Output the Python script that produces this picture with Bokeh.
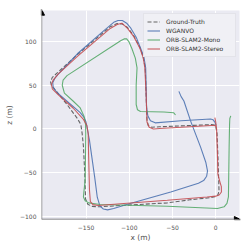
from bokeh.plotting import figure
from bokeh.models import Range1d, FixedTicker, Legend, LegendItem, Arrow, NormalHead
from bokeh.embed import file_html
from bokeh.resources import INLINE

# ---------------- data ----------------
gt_x = [0, 1.5, 2.5, 3.5, 3.8, 2.5, -1, -6, -30, -56, -110, -134, -143, -148, -150.5,
        -151.5, -153, -154.5, -156, -160, -172, -185, -190, -191, -189, -184, -160,
        -122, -114, -108, -102, -95, -88, -84, -81.5, -80.5, -79.5, -78, -74, -65, -30,
        -5, -1, 0]
gt_z = [3, -5, -30, -60, -71, -75.5, -77.5, -78.5, -81, -84.5, -87.5, -89, -88.5, -86, -80,
        -50, -20, -5, 5, 12, 28, 44, 49.5, 54, 59, 63.5, 85,
        117, 120.5, 120, 116, 107, 94, 83, 70, 40, 10, 4, 2, 2.5, 4,
        5, 4.5, 3]

wganvo_x = [0.4, -0.8, -3, -6, -40, -70, -75.5, -78.5, -80, -80.5, -81, -83, -86, -92,
            -98, -103, -108, -113, -118, -130, -160, -181, -186, -188.5, -188, -184,
            -170, -157, -152, -150, -146, -140, -137, -134, -130, -125, -118, -100, -52,
            -20, -14, -10.5, -9.5, -11.5, -17.4, -29, -36.8, -40, -42.6]
wganvo_z = [4, 7.5, 10.5, 11.5, 9.5, 7, 9.5, 15, 25, 50, 70, 82, 90, 105,
            115, 121, 124, 124, 122, 112, 86, 64, 58, 53, 48, 42,
            30, 19, 13, 8, -13, -55, -78, -88, -91.5, -92.5, -91, -85.5, -72,
            -62, -59, -54, -48, -38, -21, 9, 32, 37, 43]

mono_x = [-46.5, -48.5, -60, -87, -90.5, -92, -92, -91, -93, -97, -100.5, -103, -106,
          -110, -172, -176.5, -177.5, -175, -165, -157, -152.5, -150.5, -150.3, -151,
          -152.5, -153, -151, -147, -134, -56, 2, 9.7, 13, 14.7, 15.5, 16, 16.3, 17.4]
mono_z = [16, 18.5, 19.5, 20, 22, 28, 50, 70, 81, 92, 100, 103, 103,
          101, 61, 56, 50, 41, 32, 24.5, 15, 5, -5.7, -58.7,
          -72, -77.7, -82, -84.5, -86.4, -88.3, -91, -89, -85, -77.7, -21, 5, 12, 15]

stereo_x = [-1, 0, 1, 2, 2.5, 5, 6.5, 6.6, 4, 0, -10, -56, -110, -136, -142, -145, -146,
            -147, -147.5, -149, -153, -165, -182, -189, -190, -188, -182, -160, -122,
            -114, -108.5, -102, -95, -88, -84, -82, -80.5, -79.5, -77, -72, -65, -30,
            -5, -1, 0]
stereo_z = [13, 8, 0, -30, -52, -61, -66, -72, -75.5, -76.8, -77.8, -81.5, -85.5, -87.5, -86.5, -83, -70,
            -30, -5, 4, 11, 24, 39, 46, 51, 56, 63, 83, 115,
            119.5, 121, 115, 106, 93, 82, 70, 40, 8, 2, 0, 0.5, 2.5,
            4, 4, 3]

x_ticks = [-150, -100, -50, 0]
z_ticks = [-100, -50, 0, 50, 100]
series_names = ["Ground-Truth", "WGANVO", "ORB-SLAM2-Mono", "ORB-SLAM2-Stereo"]
series_colors = ["#555555", "#4C72B0", "#55A868", "#C44E52"]

x_lo, x_hi = -201.5, 27.5
z_lo, z_hi = -103.5, 135.5

FONT = "DejaVu Sans"
TXT = "#555555"

p = figure(frame_width=198, frame_height=209, output_backend="svg", toolbar_location=None,
           x_range=Range1d(x_lo, x_hi), y_range=Range1d(z_lo, z_hi),
           min_border_left=41, min_border_right=10, min_border_top=10, min_border_bottom=28)
p.background_fill_color = "#EAEAF2"
p.border_fill_color = "white"
p.outline_line_color = None

p.xaxis.ticker = FixedTicker(ticks=x_ticks)
p.yaxis.ticker = FixedTicker(ticks=z_ticks)
p.xaxis.major_label_overrides = {t: str(t).replace("-", "\u2212") for t in x_ticks}
p.yaxis.major_label_overrides = {t: str(t).replace("-", "\u2212") for t in z_ticks}
for ax in (p.xaxis, p.yaxis):
    ax.major_tick_line_color = None
    ax.minor_tick_line_color = None
    ax.major_tick_out = 0
    ax.major_tick_in = 0
    ax.minor_tick_out = 0
    ax.minor_tick_in = 0
    ax.axis_line_color = None
    ax.major_label_text_font = FONT
    ax.major_label_text_font_size = "6px"
    ax.major_label_text_color = TXT
    ax.axis_label_text_font = FONT
    ax.axis_label_text_font_size = "7.5px"
    ax.axis_label_text_font_style = "normal"
    ax.axis_label_text_color = TXT
p.xaxis.major_label_standoff = 5
p.yaxis.major_label_standoff = 5
p.xaxis.axis_label = "x (m)"
p.yaxis.axis_label = "z (m)"
p.xaxis.axis_label_standoff = 0
p.yaxis.axis_label_standoff = 3

p.xgrid.grid_line_color = "white"
p.ygrid.grid_line_color = "white"
p.xgrid.grid_line_width = 1
p.ygrid.grid_line_width = 1

r_gt = p.line(gt_x, gt_z, line_color=series_colors[0], line_width=1.1, line_dash="4 2", line_alpha=0.9)
r_w = p.line(wganvo_x, wganvo_z, line_color=series_colors[1], line_width=1.1, line_alpha=0.9)
r_m = p.line(mono_x, mono_z, line_color=series_colors[2], line_width=1.1, line_alpha=0.9)
r_s = p.line(stereo_x, stereo_z, line_color=series_colors[3], line_width=1.1, line_alpha=0.9)

legend = Legend(items=[LegendItem(label=n, renderers=[r]) for n, r in
                       zip(series_names, [r_gt, r_w, r_m, r_s])],
                location="top_right", margin=3, padding=3, spacing=0,
                label_height=9, glyph_height=9, glyph_width=13, label_standoff=6,
                label_width=66, label_text_font=FONT, label_text_font_size="6px",
                label_text_color="#333333",
                background_fill_color="#F0F0F5", background_fill_alpha=1.0,
                border_line_color="#D5D5DD", border_line_width=1)
p.add_layout(legend)

# spines with arrow heads
p.add_layout(Arrow(end=NormalHead(size=6, fill_color="black", line_color="black"),
                   x_start=x_lo, y_start=z_lo, x_end=x_lo, y_end=z_hi + 1.5,
                   line_color="#888888", line_width=1.5))
p.add_layout(Arrow(end=NormalHead(size=6, fill_color="black", line_color="black"),
                   x_start=x_lo, y_start=z_lo, x_end=x_hi + 1.0, y_end=z_lo,
                   line_color="#666666", line_width=1.3))

open("out.html", "w").write(file_html(p, INLINE))
